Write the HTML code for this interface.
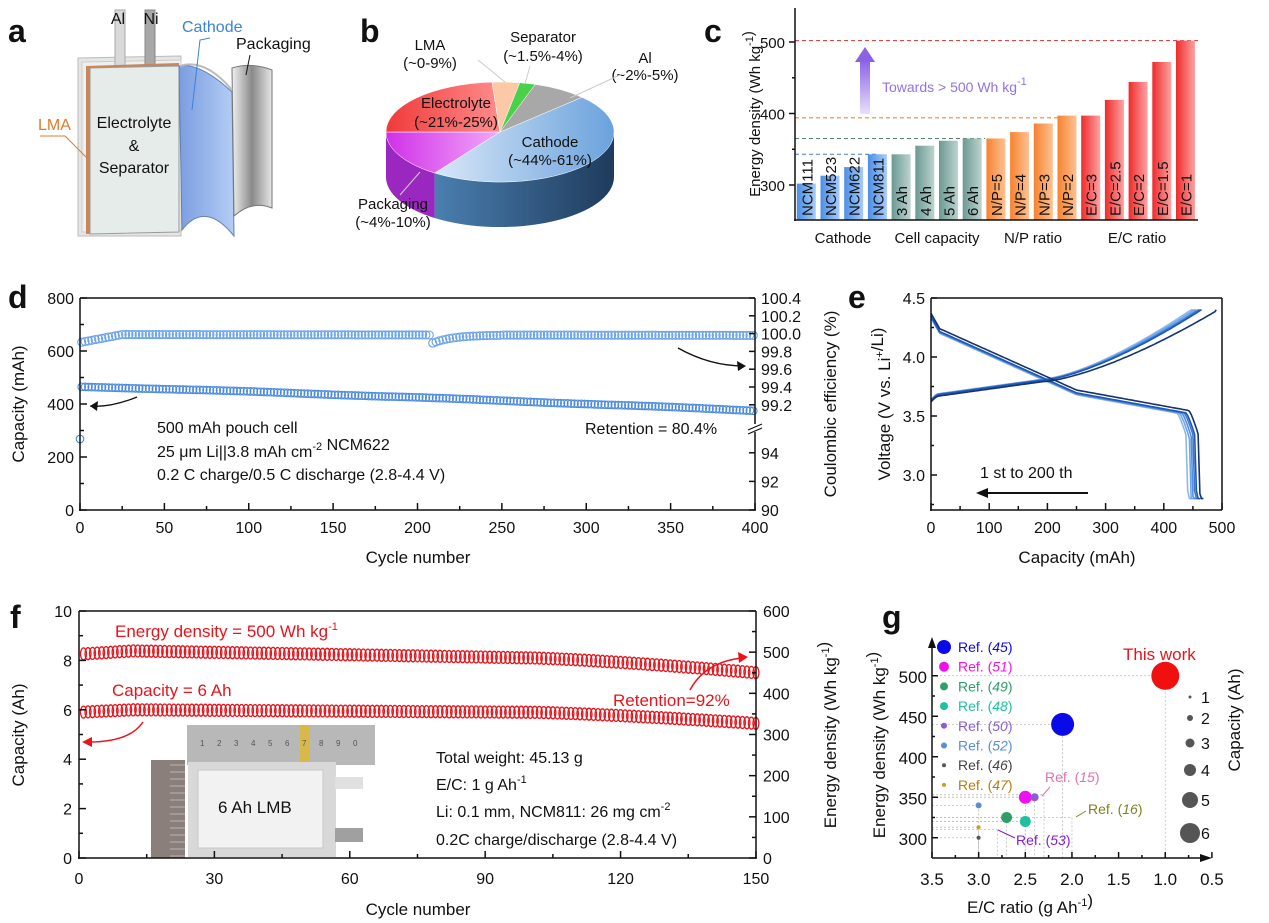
<!DOCTYPE html>
<html><head><meta charset="utf-8">
<style>
html,body{margin:0;padding:0;background:#fff;}
svg{display:block;font-family:"Liberation Sans",Arial,sans-serif;}
text{fill:#111;}
</style></head>
<body>
<svg id="s" width="1269" height="923" viewBox="0 0 1269 923" xmlns="http://www.w3.org/2000/svg">
<defs>
<linearGradient id="gB" x1="0" x2="1"><stop offset="0" stop-color="#4b8ee6"/><stop offset="1" stop-color="#a9cbf6"/></linearGradient>
<linearGradient id="gT" x1="0" x2="1"><stop offset="0" stop-color="#6c9993"/><stop offset="1" stop-color="#bcd3cf"/></linearGradient>
<linearGradient id="gO" x1="0" x2="1"><stop offset="0" stop-color="#f7822f"/><stop offset="1" stop-color="#fdc294"/></linearGradient>
<linearGradient id="gR" x1="0" x2="1"><stop offset="0" stop-color="#f02a2a"/><stop offset="1" stop-color="#fca3a3"/></linearGradient>
<linearGradient id="gP" x1="0" x2="0" y1="1" y2="0"><stop offset="0" stop-color="#e8e0fb"/><stop offset="1" stop-color="#8a62e6"/></linearGradient>
<linearGradient id="gC" x1="0" x2="1"><stop offset="0" stop-color="#d8e7f8"/><stop offset="1" stop-color="#6ba2dc"/></linearGradient>
<linearGradient id="gCs" x1="0" x2="1"><stop offset="0" stop-color="#4a7fb0"/><stop offset="1" stop-color="#1f3b5c"/></linearGradient>
<linearGradient id="gE" x1="0" x2="1"><stop offset="0" stop-color="#f03a3a"/><stop offset="1" stop-color="#ff8c8c"/></linearGradient>
<linearGradient id="gPk" x1="0" x2="1"><stop offset="0" stop-color="#d030e8"/><stop offset="1" stop-color="#f2a8fa"/></linearGradient>
<linearGradient id="gCat" x1="0" x2="1"><stop offset="0" stop-color="#7b9de0"/><stop offset="1" stop-color="#b4cdf5"/></linearGradient>
<linearGradient id="gPack" x1="0" x2="1"><stop offset="0" stop-color="#f0f0f0"/><stop offset="0.5" stop-color="#8a8a8a"/><stop offset="1" stop-color="#e6e6e6"/></linearGradient>
</defs>
<g id="root"></g>
</svg>
<script>
var R=document.getElementById('root');
var out='';
function T(x,y,s,o){o=o||{};out+='<text x="'+x+'" y="'+y+'" font-size="'+(o.fs||16)+'"'+(o.a?' text-anchor="'+o.a+'"':'')+(o.w?' font-weight="bold"':'')+(o.c?' style="fill:'+o.c+'"':'')+(o.r?' transform="rotate('+o.r+' '+x+' '+y+')"':'')+'>'+s+'</text>';}
function L(x1,y1,x2,y2,c,w,d){out+='<line x1="'+x1+'" y1="'+y1+'" x2="'+x2+'" y2="'+y2+'" stroke="'+(c||'#111')+'" stroke-width="'+(w||1.5)+'"'+(d?' stroke-dasharray="'+d+'"':'')+'/>';}
function P(d,f,s,w,extra){out+='<path d="'+d+'" fill="'+(f||'none')+'" stroke="'+(s||'none')+'" stroke-width="'+(w||1)+'" '+(extra||'')+'/>';}
function C(x,y,r,f,s,w){out+='<circle cx="'+x+'" cy="'+y+'" r="'+r+'" fill="'+(f||'none')+'" stroke="'+(s||'none')+'" stroke-width="'+(w||1)+'"/>';}
function sup(s){return '<tspan dy="-7" font-size="11">'+s+'</tspan><tspan dy="7"></tspan>';}

/* ---------- panel a ---------- */
T(8,42,'a',{fs:32,w:1});
P('M78,58 L181,56 L181,236 L78,236 Z','#e4e6e6','#bbb',1);
P('M82,62 L181,60 L181,230 L82,232 Z','#eef0ef','#ccc',1);
out+='<rect x="115" y="10" width="10" height="56" fill="#d9d9d9" stroke="#aaa"/>';
out+='<rect x="145" y="10" width="10" height="56" fill="#a8a8a8" stroke="#888"/>';
P('M86,66 L179,63 L179,232 L86,234 Z','#c8865a','none');
P('M90,68 L179,66 L179,232 L90,234 Z','#e6ece9','#999',1);
P('M179,66 Q200,62 232,92 L234,236 Q205,200 182,230 Z','url(#gCat)','#6680b0',1);
P('M232,68 Q252,62 272,70 L272,208 Q252,200 234,216 Z','url(#gPack)','#777',1);
P('M180,66 Q205,58 232,90','none','#bbb',2);
T(118,24,'Al',{fs:16,a:'middle'});T(151,24,'Ni',{fs:16,a:'middle'});
T(182,32,'Cathode',{fs:16,c:'#3b82d8'});P('M210,38 L200,40 L192,110','none','#3b82d8',1);
T(236,49,'Packaging',{fs:16});P('M250,55 L246,75','none','#111',1);
T(38,130,'LMA',{fs:16,c:'#e07b2a'});P('M40,136 L65,136 L87,158','none','#e07b2a',1);
T(134,128,'Electrolyte',{fs:16,a:'middle'});T(134,151,'&amp;',{fs:16,a:'middle'});T(134,173,'Separator',{fs:16,a:'middle'});

/* ---------- panel b (pie) ---------- */
T(360,42,'b',{fs:32,w:1});
var cx=500,cy=132,rx=114,ry=50,dep=45;
function pt(t,dy){t=t*Math.PI/180;return [(cx+rx*Math.cos(t)).toFixed(1),(cy+ry*Math.sin(t)+(dy||0)).toFixed(1)];}
function side(t1,t2,f){var a=pt(t1),b=pt(t2),c=pt(t2,dep),d=pt(t1,dep);P('M'+a+' A'+rx+' '+ry+' 0 0 1 '+b+' L'+c+' A'+rx+' '+ry+' 0 0 0 '+d+' Z',f,'none');}
function slice(t1,t2,f){var a=pt(t1),b=pt(t2);P('M'+cx+','+cy+' L'+a+' A'+rx+' '+ry+' 0 '+((t2-t1)>180?1:0)+' 1 '+b+' Z',f,'#fff',0.5);}
side(0,125,'url(#gCs)');side(125,180,'#9a28c0');
slice(-44,125,'url(#gC)');slice(125,180,'url(#gPk)');slice(180,266,'url(#gE)');slice(266,280,'#fbc9a8');slice(280,288,'#4ad04a');slice(288,316,'#a8a8a8');
T(430,50,'LMA',{fs:15,a:'middle'});T(430,68,'(~0-9%)',{fs:15,a:'middle'});
T(543,42,'Separator',{fs:15,a:'middle'});T(543,61,'(~1.5%-4%)',{fs:15,a:'middle'});
T(645,63,'Al',{fs:15,a:'middle'});T(645,80,'(~2%-5%)',{fs:15,a:'middle'});
T(456,108,'Electrolyte',{fs:15,a:'middle'});T(456,127,'(~21%-25%)',{fs:15,a:'middle'});
T(550,147,'Cathode',{fs:15,a:'middle'});T(550,165,'(~44%-61%)',{fs:15,a:'middle'});
T(393,209,'Packaging',{fs:15,a:'middle'});T(393,227,'(~4%-10%)',{fs:15,a:'middle'});
L(478,60,505,82,'#ccc',1);L(530,66,525,84,'#ccc',1);L(622,74,570,98,'#ccc',1);L(400,195,420,172,'#ccc',1);

/* ---------- panel c ---------- */
T(704,42,'c',{fs:32,w:1});
function yc(v){return 185-(v-300)*0.715;}
var vals=[302,313,325,343,343,355,362,365,365,374,386,397,397,419,444,472,502];
var labs=['NCM111','NCM523','NCM622','NCM811','3 Ah','4 Ah','5 Ah','6 Ah','N/P=5','N/P=4','N/P=3','N/P=2','E/C=3','E/C=2.5','E/C=2','E/C=1.5','E/C=1'];
L(795,yc(502),1198,yc(502),'#d03030',1,'4,3');
L(795,yc(394),1070,yc(394),'#f08a30',1.2,'4,3');
L(795,yc(365),985,yc(365),'#5a8070',1,'4,3');
L(795,yc(343),878,yc(343),'#4a7ad0',1,'4,3');
for(var i=0;i<17;i++){var x=1176-(16-i)*23.7;var g=i<4?'gB':i<8?'gT':i<12?'gO':'gR';
out+='<rect x="'+x.toFixed(1)+'" y="'+yc(vals[i]).toFixed(1)+'" width="19" height="'+(220-yc(vals[i])).toFixed(1)+'" fill="url(#'+g+')"/>';
T((x+15.5).toFixed(1),216,labs[i],{fs:15,r:-90});}
L(795,8,795,221,'#111',1.5);L(794,220,1198,220,'#111',1.5);
[300,400,500].forEach(function(v){L(789,yc(v),795,yc(v));T(785,yc(v)+6,v,{fs:15,a:'end'});});
[350,450,550].forEach(function(v){if(yc(v)>8)L(792,yc(v),795,yc(v));});
T(760,114,'Energy density (Wh kg'+sup('-1')+')',{fs:15,a:'middle',r:-90});
out+='<rect x="860" y="60" width="10" height="54" fill="url(#gP)"/>';P('M855,62 L865,47 L875,62 Z','#8a62e6');
T(882,92,'Towards &gt; 500 Wh kg'+sup('-1'),{fs:14,c:'#9470e8'});
T(843,243,'Cathode',{fs:15,a:'middle'});T(937,243,'Cell capacity',{fs:15,a:'middle'});T(1033,243,'N/P ratio',{fs:15,a:'middle'});T(1137,243,'E/C ratio',{fs:15,a:'middle'});

/* ---------- panel d ---------- */
T(8,308,'d',{fs:32,w:1});
function xd(c){return 80+c*1.6875;}function yd(v){return 510-v*0.265;}
function yce(v){return v>=99?298+(100.4-v)*89:510-(v-90)*14.3;}
for(var c=1;c<=400;c+=2){var cap=465-90*Math.pow(c/400,1.15)-1*Math.sin(c/20);C(xd(c).toFixed(1),yd(cap).toFixed(1),3.8,'none','#4a8ae0',1.1);}
C(xd(0),439,3.8,'none','#4a8ae0',1.1);
for(var c=1;c<=400;c+=2){var ce=99.9+0.09*Math.min(1,c/25)-0.01*(c/400);if(c>=208&&c<250)ce-=0.1*Math.exp(-(c-208)/12);C(xd(c).toFixed(1),yce(ce).toFixed(1),4,'none','#6ba3e8',1.1);}
L(80,298,755,298);L(80,298,80,511);L(79,510,756,510);L(755,298,755,510);
for(var v=0;v<=800;v+=100){L(80,yd(v),v%200?84:87,yd(v));if(v%200==0)T(74,yd(v)+6,v,{fs:16,a:'end'});}
for(var c=0;c<=400;c+=25){L(xd(c),510,xd(c),c%50?506:503);if(c%50==0)T(xd(c),533,c,{fs:16,a:'middle'});}
[99.2,99.4,99.6,99.8,100.0,100.2,100.4].forEach(function(v){L(749,yce(v),755,yce(v));T(761,yce(v)+6,v.toFixed(1),{fs:16});});
[90,92,94].forEach(function(v){L(749,yce(v),755,yce(v));T(761,yce(v)+6,v,{fs:16});});
out+='<rect x="748" y="424" width="14" height="8" fill="#fff"/>';L(748,430,762,424,'#111',1.2);L(748,434,762,428,'#111',1.2);
T(418,563,'Cycle number',{fs:17,a:'middle'});
T(24,404,'Capacity (mAh)',{fs:17,a:'middle',r:-90});
T(836,404,'Coulombic efficiency (%)',{fs:17,a:'middle',r:-90});
T(157,433,'500 mAh pouch cell',{fs:16});T(157,457,'25 μm Li||3.8 mAh cm'+sup('-2')+' NCM622',{fs:16});T(157,480,'0.2 C charge/0.5 C discharge (2.8-4.4 V)',{fs:16});
T(585,434,'Retention = 80.4%',{fs:16});
P('M137,397 Q110,408 90,406','none','#111',1.3);P('M90,406 L98,401 L97,411 Z','#111');
P('M678,348 Q710,366 744,366','none','#111',1.3);P('M746,366 L737,361 L738,371 Z','#111');

/* ---------- panel e ---------- */
T(848,308,'e',{fs:32,w:1});
function xe(c){return 931+c*0.582;}function ye(v){return 298+(4.5-v)*118;}
var cols=['#8ab8f0','#6fa5ec','#5590e0','#3d78d0','#2258b0','#15336e'];
var caps=[448,452,456,460,463,468];var chend=[450,455,460,462,465,490];
for(var k=0;k<6;k++){var Q=caps[k],d='',off=(k==5?0.02:0)-(5-k)*0.004;
for(var q=0;q<=Q;q+=3){var v;if(q<15)v=4.35-0.13*(q/15);else v=4.22-0.52*((q-15)/235);if(q>250)v=3.70-(q-250)*0.0009;if(q>Q-25){v-= 0.005*Math.pow(q-(Q-25),1.3)*(q>Q-8?3:1);}
v+=off;if(q>Q-6)v=Math.max(2.8,v-(q-(Q-6))*0.12);d+=(q?'L':'M')+xe(q).toFixed(1)+','+ye(Math.max(2.8,v)).toFixed(1);}
d+='L'+xe(Q).toFixed(1)+','+ye(2.8);P(d,'none',cols[k],1.6);
var E=chend[k],d2='';for(var q=0;q<=E;q+=4){var v=3.63+0.04*Math.min(1,q/10)+0.13*Math.min(q,190)/190;if(q>190)v+=0.6*Math.pow((q-190)/(E-190),1.45);v-=off*0.5;d2+=(q?'L':'M')+xe(q).toFixed(1)+','+ye(Math.min(4.4,v)).toFixed(1);}
d2+='L'+xe(E).toFixed(1)+','+ye(4.4).toFixed(1);P(d2,'none',cols[k],1.6);}
L(931,298,1222,298);L(931,298,931,511);L(930,510,1222,510);L(1222,298,1222,510);
for(var v=2.75;v<=4.5;v+=0.25){L(931,ye(v),Math.abs(v*2-Math.round(v*2))<0.01?937:934,ye(v));}
[3.0,3.5,4.0,4.5].forEach(function(v){T(925,ye(v)+6,v.toFixed(1),{fs:16,a:'end'});});
for(var c=0;c<=500;c+=50){L(xe(c),510,xe(c),c%100?506:503);if(c%100==0)T(xe(c),533,c,{fs:16,a:'middle'});}
T(1077,563,'Capacity (mAh)',{fs:17,a:'middle'});
T(890,404,'Voltage (V vs. Li'+sup('+')+'/Li)',{fs:17,a:'middle',r:-90});
T(980,478,'1 st to 200 th',{fs:16});L(1088,493,985,493,'#111',2);P('M976,493 L988,488 L988,498 Z','#111');

/* ---------- panel f ---------- */
T(10,628,'f',{fs:32,w:1});
function xf(c){return 79+c*4.513;}function yfl(v){return 858-v*24.7;}function yfr(v){return 858-v*0.4117;}
for(var c=1;c<=150;c++){var e;if(c<12)e=495+8*c/12;else if(c<100)e=503-17*(c-12)/88;else e=486-36*Math.pow((c-100)/50,1.3);
out+='<ellipse cx="'+xf(c).toFixed(1)+'" cy="'+yfr(e).toFixed(1)+'" rx="3" ry="6" fill="none" stroke="#e8141b" stroke-width="1.3"/>';
var q;if(c<12)q=5.9+0.1*c/12;else if(c<100)q=6.0-0.1*(c-12)/88;else q=5.9-0.45*Math.pow((c-100)/50,1.3);
out+='<ellipse cx="'+xf(c).toFixed(1)+'" cy="'+yfl(q).toFixed(1)+'" rx="3" ry="6" fill="none" stroke="#e8141b" stroke-width="1.3"/>';}
out+='<rect x="187" y="725" width="188" height="40" fill="#b8b8b8"/><rect x="300" y="725" width="10" height="40" fill="#d8b84a"/>';
for(var i=0;i<10;i++)T(200+i*17,746,(i+1)%10,{fs:8,c:'#555'});
out+='<rect x="151" y="760" width="34" height="98" fill="#8a7f7a"/>';
for(var i=0;i<14;i++)L(170,765+i*7,185,765+i*7,'#ccc',0.7);
out+='<rect x="188" y="762" width="148" height="95" fill="#d8d8d8"/><rect x="198" y="770" width="125" height="78" fill="#f2f2f2" stroke="#c8c8c8"/>';
out+='<rect x="335" y="777" width="28" height="12" fill="#e0e0e0"/><rect x="335" y="828" width="28" height="14" fill="#a0a0a0"/>';
T(218,813,'6 Ah LMB',{fs:17});
L(79,611,756,611);L(79,611,79,859);L(78,858,757,858);L(756,611,756,858);
for(var v=0;v<=10;v+=1){L(79,yfl(v),v%2?83:86,yfl(v));if(v%2==0)T(72,yfl(v)+6,v,{fs:16,a:'end'});}
for(var v=0;v<=600;v+=50){L(756,yfr(v),v%100?752:749,yfr(v));if(v%100==0)T(763,yfr(v)+6,v,{fs:16});}
for(var c=0;c<=150;c+=15){L(xf(c),858,xf(c),c%30?854:851);if(c%30==0)T(xf(c),884,c,{fs:16,a:'middle'});}
T(418,915,'Cycle number',{fs:17,a:'middle'});
T(24,735,'Capacity (Ah)',{fs:17,a:'middle',r:-90});
T(836,735,'Energy density (Wh kg'+sup('-1')+')',{fs:17,a:'middle',r:-90});
T(115,637,'Energy density = 500 Wh kg'+sup('-1'),{fs:17,c:'#e8141b'});
T(112,696,'Capacity = 6 Ah',{fs:17,c:'#e8141b'});
T(613,706,'Retention=92%',{fs:17,c:'#e8141b'});
T(436,763,'Total weight: 45.13 g',{fs:16});T(436,790,'E/C: 1 g Ah'+sup('-1'),{fs:16});T(436,817,'Li: 0.1 mm, NCM811: 26 mg cm'+sup('-2'),{fs:16});T(436,845,'0.2C charge/discharge (2.8-4.4 V)',{fs:16});
P('M143,722 Q130,742 88,742','none','#e8141b',1.5);P('M82,742 L92,737 L92,747 Z','#e8141b');
P('M690,690 Q705,662 742,658','none','#e8141b',1.5);P('M748,657 L738,652 L739,663 Z','#e8141b');

/* ---------- panel g ---------- */
T(882,628,'g',{fs:32,w:1});
function xg(e){return 932+(3.5-e)*93.3;}function yg(v){return 858-(v-275)*0.81;}
var pts=[[1.0,500,14,'#f01010'],[2.1,440,11.5,'#0a0ae8'],[2.5,350,6.5,'#ee10ee'],[2.4,350,4,'#8a5ed0'],[2.7,325,5.5,'#2e9e6a'],[2.5,320,5.5,'#1ec0a0'],[3.0,340,3,'#5a8ed0'],[3.0,300,2,'#555'],[3.0,313,2,'#c8a020']];
pts.forEach(function(p){L(932,yg(p[1]),xg(p[0]),yg(p[1]),'#bbb',0.8,'2,2');L(xg(p[0]),yg(p[1]),xg(p[0]),858,'#bbb',0.8,'2,2');});
L(932,yg(353),xg(2.3),yg(353),'#bbb',0.8,'2,2');L(xg(2.3),yg(353),xg(2.3),858,'#bbb',0.8,'2,2');
L(932,yg(325),xg(2.0),yg(325),'#bbb',0.8,'2,2');L(xg(2.0),yg(325),xg(2.0),858,'#bbb',0.8,'2,2');
L(932,yg(310),xg(2.8),yg(310),'#bbb',0.8,'2,2');L(xg(2.8),yg(310),xg(2.8),858,'#bbb',0.8,'2,2');
pts.forEach(function(p){C(xg(p[0]).toFixed(1),yg(p[1]).toFixed(1),p[2],p[3]);});
L(932,858,932,642);P('M928,648 L932,637 L936,648 Z','#111');L(932,858,1205,858);P('M1200,854 L1212,858 L1200,862 Z','#111');
for(var v=300;v<=500;v+=25){L(932,yg(v),v%50?935:938,yg(v));if(v%50==0)T(927,yg(v)+7,v,{fs:17,a:'end'});}
for(var e=3.5;e>=0.49;e-=0.25){var ex=xg(e);L(ex,858,ex,Math.abs(e*2-Math.round(e*2))<0.01?852:855);if(Math.abs(e*2-Math.round(e*2))<0.01)T(ex,885,e.toFixed(1),{fs:17,a:'middle'});}
T(1030,913,'E/C ratio (g Ah'+sup('-1')+')',{fs:17,a:'middle'});
T(885,745,'Energy density (Wh kg'+sup('-1')+')',{fs:17,a:'middle',r:-90});
T(1240,720,'Capacity (Ah)',{fs:17,a:'middle',r:-90});
var lg=[['45',7,'#0a0ae8','#0a0ae8'],['51',5,'#ee10ee','#ee10ee'],['49',4,'#2e9e6a','#2e9e6a'],['48',4,'#1ec0a0','#1ec0a0'],['50',3,'#8a5ed0','#8a5ed0'],['52',3,'#5a8ed0','#5a8ed0'],['46',2,'#555','#444'],['47',2,'#c8a020','#b08010']];
lg.forEach(function(l,i){var y=647+i*19.7;C(944,y,l[1],l[2]);T(958,y+5,'Ref. (<tspan font-style="italic">'+l[0]+'</tspan>)',{fs:14,c:l[3]});});
T(1123,660,'This work',{fs:17,c:'#e8141b'});
var sz=[[697,1.5],[718,3],[743,4.5],[770,6],[800,8],[833,10]];
sz.forEach(function(z,i){C(1190,z[0],z[1],'#555');T(1201,z[0]+6,i+1,{fs:16});});
T(1045,782,'Ref. (<tspan font-style="italic">15</tspan>)',{fs:14,c:'#e070b0'});L(1050,787,1042,796,'#e070b0',1);
T(1088,814,'Ref. (<tspan font-style="italic">16</tspan>)',{fs:14,c:'#808020'});L(1086,811,1076,817,'#808020',1);
T(1016,845,'Ref. (<tspan font-style="italic">53</tspan>)',{fs:14,c:'#8020d0'});L(1015,838,998,830,'#8020d0',1);

R.innerHTML=out;
</script>
</body></html>
